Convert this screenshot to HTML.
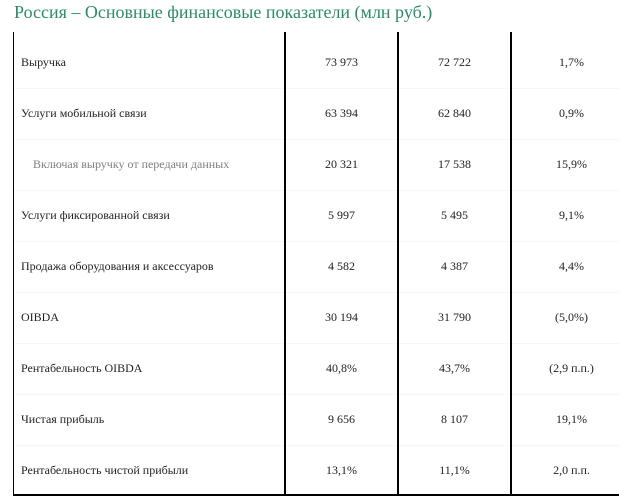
<!DOCTYPE html>
<html>
<head>
<meta charset="utf-8">
<style>
html,body{margin:0;padding:0;background:#fff;}
body{width:619px;height:503px;overflow:hidden;position:relative;font-family:"Liberation Serif","Noto Serif CJK SC",serif;}
.title{position:absolute;left:14px;top:3px;font-size:18px;line-height:18px;color:#2b8a6b;white-space:nowrap;}
.vl{position:absolute;background:#000;}
.sep{position:absolute;left:14px;width:605px;height:1px;background:#f7f7f7;}
.t{position:absolute;height:14px;line-height:14px;font-size:12px;color:#222;white-space:nowrap;}
.c{text-align:center;}
.c2{left:286px;width:111px;}
.c3{left:399px;width:111px;}
.c4{left:512px;width:119px;}
.lab{left:21px;}
.ind{left:33px;color:#808080;}
</style>
</head>
<body>
<div class="title">Россия – Основные финансовые показатели (млн руб.)</div>

<div class="sep" style="top:88px"></div>
<div class="sep" style="top:139px"></div>
<div class="sep" style="top:190px"></div>
<div class="sep" style="top:241px"></div>
<div class="sep" style="top:292px"></div>
<div class="sep" style="top:343px"></div>
<div class="sep" style="top:394px"></div>
<div class="sep" style="top:445px"></div>

<div class="vl" style="left:13px;top:32px;width:1px;height:464px"></div>
<div class="vl" style="left:284px;top:32px;width:2px;height:464px"></div>
<div class="vl" style="left:397px;top:32px;width:2px;height:464px"></div>
<div class="vl" style="left:510px;top:32px;width:2px;height:464px"></div>
<div class="vl" style="left:13px;top:494px;width:606px;height:2px"></div>

<div class="t lab" style="top:55px">Выручка</div>
<div class="t c c2" style="top:55px">73 973</div>
<div class="t c c3" style="top:55px">72 722</div>
<div class="t c c4" style="top:55px">1,7%</div>

<div class="t lab" style="top:106px">Услуги мобильной связи</div>
<div class="t c c2" style="top:106px">63 394</div>
<div class="t c c3" style="top:106px">62 840</div>
<div class="t c c4" style="top:106px">0,9%</div>

<div class="t ind" style="top:157px">Включая выручку от передачи данных</div>
<div class="t c c2" style="top:157px">20 321</div>
<div class="t c c3" style="top:157px">17 538</div>
<div class="t c c4" style="top:157px">15,9%</div>

<div class="t lab" style="top:208px">Услуги фиксированной связи</div>
<div class="t c c2" style="top:208px">5 997</div>
<div class="t c c3" style="top:208px">5 495</div>
<div class="t c c4" style="top:208px">9,1%</div>

<div class="t lab" style="top:259px">Продажа оборудования и аксессуаров</div>
<div class="t c c2" style="top:259px">4 582</div>
<div class="t c c3" style="top:259px">4 387</div>
<div class="t c c4" style="top:259px">4,4%</div>

<div class="t lab" style="top:310px">OIBDA</div>
<div class="t c c2" style="top:310px">30 194</div>
<div class="t c c3" style="top:310px">31 790</div>
<div class="t c c4" style="top:310px">(5,0%)</div>

<div class="t lab" style="top:361px">Рентабельность OIBDA</div>
<div class="t c c2" style="top:361px">40,8%</div>
<div class="t c c3" style="top:361px">43,7%</div>
<div class="t c c4" style="top:361px">(2,9 п.п.)</div>

<div class="t lab" style="top:412px">Чистая прибыль</div>
<div class="t c c2" style="top:412px">9 656</div>
<div class="t c c3" style="top:412px">8 107</div>
<div class="t c c4" style="top:412px">19,1%</div>

<div class="t lab" style="top:463px">Рентабельность чистой прибыли</div>
<div class="t c c2" style="top:463px">13,1%</div>
<div class="t c c3" style="top:463px">11,1%</div>
<div class="t c c4" style="top:463px">2,0 п.п.</div>
</body>
</html>
